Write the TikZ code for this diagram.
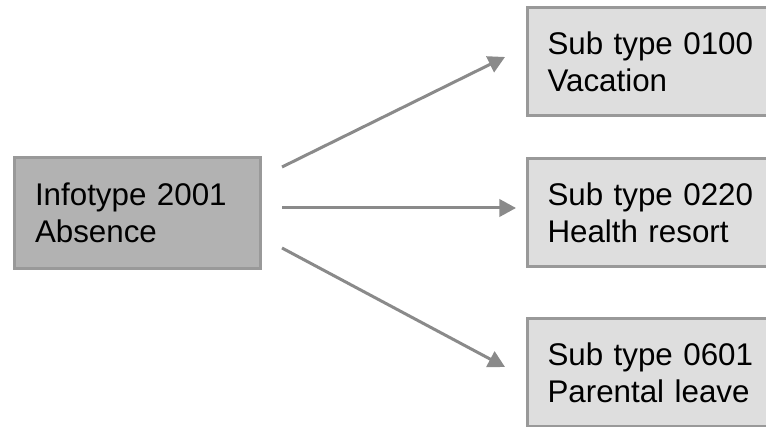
\documentclass[tikz,border=0pt]{standalone}
\usepackage{fontspec}
\setmainfont{Liberation Sans}
\usetikzlibrary{arrows.meta,calc}
\definecolor{boxline}{HTML}{999999}
\definecolor{mainfill}{HTML}{B2B2B2}
\definecolor{subfill}{HTML}{DEDEDE}
\definecolor{connline}{HTML}{8A8A8A}
\begin{document}
\begin{tikzpicture}[x=0.75pt,y=-0.75pt,
  box/.style={draw=boxline,line width=2.25pt,outer sep=0pt,anchor=west,
    align=left,inner ysep=0pt,
    font=\fontsize{23.5}{27.5}\selectfont},
  mainbox/.style={box,fill=mainfill,inner xsep=15.375pt,text width=153.75pt,
    minimum height=83.25pt},
  subbox/.style={box,fill=subfill,inner xsep=15pt,text width=165pt,
    minimum height=81pt},
  conn/.style={draw=connline,line width=2.25pt,
    -{Triangle[length=12.5pt,width=13pt]}}]
  \useasboundingbox (0,0) rectangle (766,427);
  \clip (0,0) rectangle (766,427);

  % source infotype
  \node[mainbox] (src) at (14.5,213) {Infotype 2001\\Absence};

  % sub types
  \node[subbox] (vac) at (527.5,62) {Sub type 0100\\Vacation};
  \node[subbox] (hea) at (527.5,212.5) {Sub type 0220\\Health resort};
  \node[subbox] (par) at (527.5,372.5) {Sub type 0601\\Parental leave};

  % connector ends
  \coordinate (s1) at ($(src.east)+(21.5,-46)$);
  \coordinate (s2) at ($(src.east)+(21.5,-5)$);
  \coordinate (s3) at ($(src.east)+(21.5,35)$);
  \coordinate (e1) at ($(vac.west)+(-22.5,-5)$);
  \coordinate (e2) at ($(hea.west)+(-11.5,-4.5)$);
  \coordinate (e3) at ($(par.west)+(-22.5,-5.5)$);

  \draw[conn] (s1) -- (e1);
  \draw[conn] (s2) -- (e2);
  \draw[conn] (s3) -- (e3);
\end{tikzpicture}
\end{document}
